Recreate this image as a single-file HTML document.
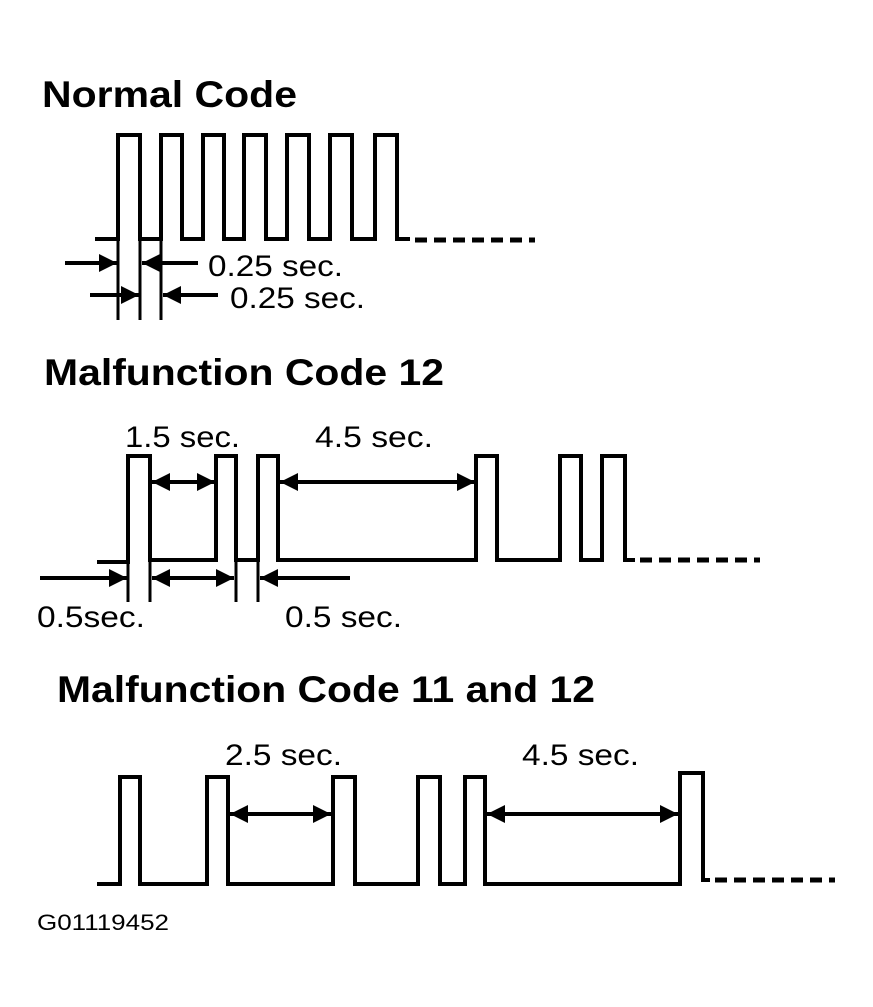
<!DOCTYPE html>
<html><head><meta charset="utf-8"><style>html,body{margin:0;padding:0;background:#fff}svg{display:block}</style></head>
<body>
<svg width="873" height="1007" viewBox="0 0 873 1007" xmlns="http://www.w3.org/2000/svg" font-family="Liberation Sans, Arial, sans-serif">
<defs>
<marker id="a" viewBox="0 0 10 10" refX="10" refY="5" markerWidth="6.5" markerHeight="4.5" orient="auto-start-reverse" markerUnits="strokeWidth"><path d="M0,0 L10,5 L0,10 Z" fill="#000"/></marker>
</defs>
<g fill="#000">
<text x="42" y="107" font-size="37" font-weight="bold" textLength="255" lengthAdjust="spacingAndGlyphs">Normal Code</text>
<text x="44" y="385" font-size="37" font-weight="bold" textLength="400" lengthAdjust="spacingAndGlyphs">Malfunction Code 12</text>
<text x="57" y="702" font-size="37" font-weight="bold" textLength="538" lengthAdjust="spacingAndGlyphs">Malfunction Code 11 and 12</text>
<text x="208" y="276" font-size="30" textLength="135" lengthAdjust="spacingAndGlyphs">0.25 sec.</text>
<text x="230" y="308" font-size="30" textLength="135" lengthAdjust="spacingAndGlyphs">0.25 sec.</text>
<text x="125" y="447" font-size="30" textLength="115" lengthAdjust="spacingAndGlyphs">1.5 sec.</text>
<text x="315" y="447" font-size="30" textLength="118" lengthAdjust="spacingAndGlyphs">4.5 sec.</text>
<text x="37" y="627" font-size="30" textLength="108" lengthAdjust="spacingAndGlyphs">0.5sec.</text>
<text x="285" y="627" font-size="30" textLength="117" lengthAdjust="spacingAndGlyphs">0.5 sec.</text>
<text x="225" y="765" font-size="30" textLength="117" lengthAdjust="spacingAndGlyphs">2.5 sec.</text>
<text x="522" y="765" font-size="30" textLength="117" lengthAdjust="spacingAndGlyphs">4.5 sec.</text>
<text x="37" y="930" font-size="22" textLength="132" lengthAdjust="spacingAndGlyphs">G01119452</text>
</g>
<g fill="none" stroke="#000" stroke-width="4" stroke-linejoin="miter">
<path d="M95,239 H118 V135 H140 V239 H161 V135 H182 V239 H203 V135 H224 V239 H244 V135 H266 V239 H287 V135 H309 V239 H330 V135 H352 V239 H375 V135 H397 V239 H410"/>
<path d="M415,240 H535" stroke-dasharray="12,7" stroke-width="5"/>
<path d="M118,239 V320 M140,239 V320 M161,239 V320" stroke-width="3"/>
<path d="M97,562 H128 V456 H150 V560 H216 V456 H236 V560 H258 V456 H278 V560 H476 V456 H497 V560 H560 V456 H581 V560 H602 V456 H625 V560 H635"/>
<path d="M640,560 H760" stroke-dasharray="12,7" stroke-width="5"/>
<path d="M128,560 V602 M150,560 V602 M236,560 V602 M258,560 V602" stroke-width="3"/>
<path d="M97,884 H120 V777 H140 V884 H207 V777 H228 V884 H333 V777 H355 V884 H418 V777 H440 V884 H465 V777 H485 V884 H680 V773 H703 V880 H710"/>
<path d="M715,880 H835" stroke-dasharray="12,7" stroke-width="5"/>
</g>
<g stroke="#000" stroke-width="4" fill="none">
<line x1="65" y1="263" x2="117" y2="263" marker-end="url(#a)"/>
<line x1="198" y1="263" x2="142" y2="263" marker-end="url(#a)"/>
<line x1="90" y1="295" x2="139" y2="295" marker-end="url(#a)"/>
<line x1="218" y1="295" x2="163" y2="295" marker-end="url(#a)"/>
<line x1="152" y1="482" x2="215" y2="482" marker-start="url(#a)" marker-end="url(#a)"/>
<line x1="280" y1="482" x2="475" y2="482" marker-start="url(#a)" marker-end="url(#a)"/>
<line x1="40" y1="578" x2="127" y2="578" marker-end="url(#a)"/>
<line x1="152" y1="578" x2="234" y2="578" marker-start="url(#a)" marker-end="url(#a)"/>
<line x1="350" y1="578" x2="260" y2="578" marker-end="url(#a)"/>
<line x1="230" y1="814" x2="331" y2="814" marker-start="url(#a)" marker-end="url(#a)"/>
<line x1="487" y1="814" x2="678" y2="814" marker-start="url(#a)" marker-end="url(#a)"/>
</g>
</svg>
</body></html>
